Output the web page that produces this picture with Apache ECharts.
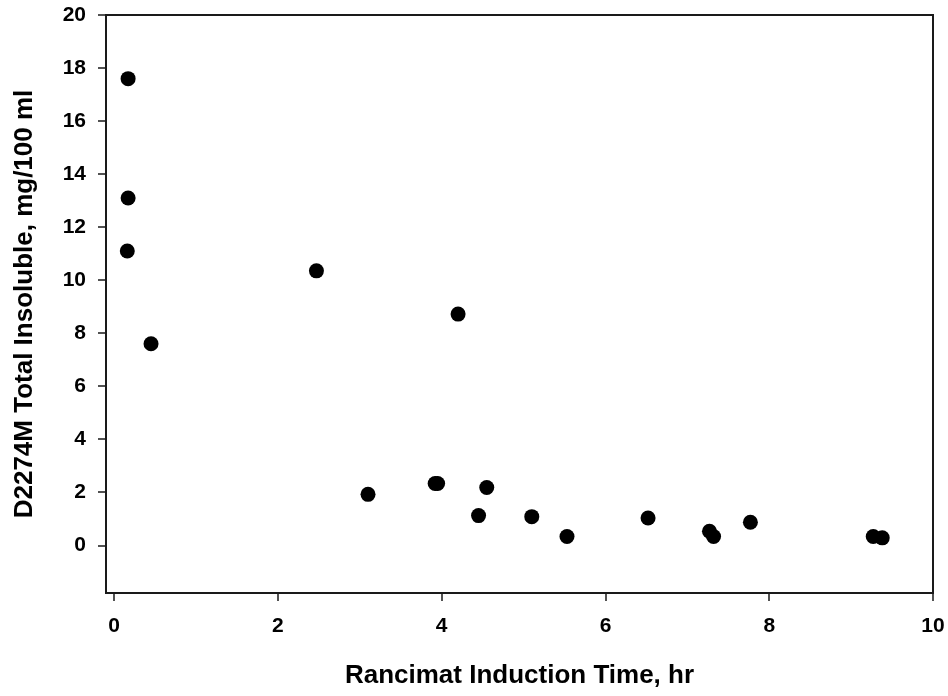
<!DOCTYPE html>
<html>
<head>
<meta charset="utf-8">
<script src="https://cdn.jsdelivr.net/npm/echarts@6/dist/echarts.min.js"></script>
<style>
  html, body { margin: 0; padding: 0; background: #fff; }
  #chart { width: 948px; height: 696px; }
</style>
</head>
<body>
<div id="chart"></div>
<script>
// data
const inductionTime = [0.17, 0.17, 0.16, 0.45, 2.47, 3.10, 3.92, 3.95, 4.20, 4.45, 4.55, 5.10, 5.53, 6.52, 7.27, 7.32, 7.77, 9.27, 9.38]
const totalInsoluble = [17.6, 13.1, 11.1, 7.6, 10.35, 1.92, 2.33, 2.33, 8.72, 1.12, 2.18, 1.08, 0.33, 1.03, 0.53, 0.33, 0.87, 0.33, 0.28]
const xTicks = [0, 2, 4, 6, 8, 10]
const yTicks = [0, 2, 4, 6, 8, 10, 12, 14, 16, 18, 20]

const points = inductionTime.map((x, i) => [x, totalInsoluble[i]])

const font = '"Liberation Sans", Arial, sans-serif'
const ink = '#1a1a1a'

const chart = echarts.init(document.getElementById('chart'))

chart.setOption({
  animation: false,
  grid: {
    left: 106,
    right: 15,
    top: 15,
    bottom: 103,
    show: true,
    borderColor: ink,
    borderWidth: 2
  },
  xAxis: {
    type: 'value',
    min: -0.1,
    max: 10,
    name: 'Rancimat Induction Time, hr',
    nameLocation: 'middle',
    nameGap: 70,
    nameTextStyle: { fontFamily: font, fontWeight: 'bold', fontSize: 26, color: '#000' },
    axisLine: { onZero: false, lineStyle: { color: ink, width: 2 } },
    axisTick: { show: true, length: 8, lineStyle: { color: ink, width: 1.5 }, customValues: xTicks },
    axisLabel: { customValues: xTicks, margin: 23, fontFamily: font, fontWeight: 'bold', fontSize: 21, color: '#000' },
    splitLine: { show: false }
  },
  yAxis: {
    type: 'value',
    min: -1.8,
    max: 20,
    name: 'D2274M Total Insoluble, mg/100 ml',
    nameLocation: 'middle',
    nameGap: 68,
    nameTextStyle: { fontFamily: font, fontWeight: 'bold', fontSize: 26, color: '#000' },
    axisLine: { show: true, onZero: false, lineStyle: { color: ink, width: 2 } },
    axisTick: { show: true, length: 8, lineStyle: { color: ink, width: 1.5 }, customValues: yTicks },
    axisLabel: { customValues: yTicks, margin: 20, fontFamily: font, fontWeight: 'bold', fontSize: 21, color: '#000' },
    splitLine: { show: false }
  },
  series: [
    {
      type: 'scatter',
      data: points,
      symbol: 'circle',
      symbolSize: 15,
      itemStyle: { color: '#000', opacity: 1 }
    }
  ]
})
</script>
</body>
</html>
